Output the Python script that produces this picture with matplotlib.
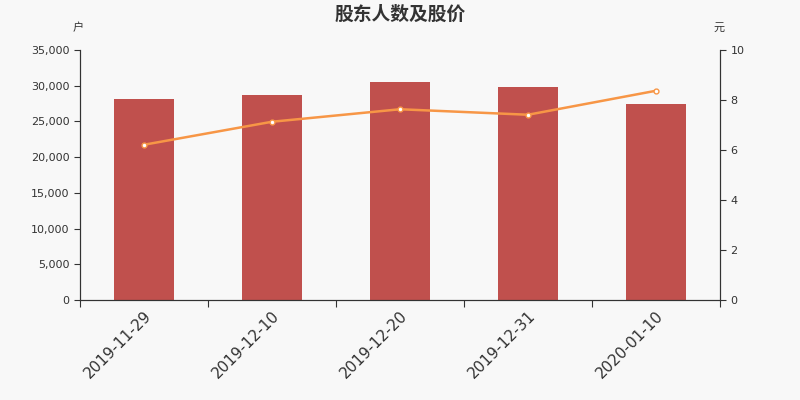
import numpy as np
import matplotlib.pyplot as plt

plt.rcParams['font.family'] = ['DejaVu Sans', 'Noto Sans CJK SC']

dates = ['2019-11-29', '2019-12-10', '2019-12-20', '2019-12-31', '2020-01-10']
holders = [28140, 28700, 30520, 29770, 27440]
price = [6.21, 7.13, 7.63, 7.41, 8.37]

bg = '#f8f8f8'
fig = plt.figure(figsize=(8, 4), dpi=100, facecolor=bg)
ax = fig.add_axes([0.1, 0.25, 0.8, 0.625], facecolor=bg)
ax2 = ax.twinx()

x = np.arange(len(dates))
ax.bar(x, holders, width=0.47, color='#c0504d', zorder=2)
ax2.plot(x, price, color='#f79646', lw=1.8, marker='o', ms=3.5,
         mfc='white', mec='#f79646', mew=1, zorder=3)

ax.set_xlim(-0.5, len(dates) - 0.5)
ax.set_ylim(0, 35000)
ax2.set_ylim(0, 10)
ax.set_yticks(np.arange(0, 35001, 5000))
ax.set_yticklabels([f'{v:,}' for v in range(0, 35001, 5000)])
ax2.set_yticks(np.arange(0, 11, 2))

ax.set_xticks(np.arange(-0.5, len(dates)), minor=False)
ax.set_xticklabels([])
ax.set_xticks(x, minor=True)
ax.set_xticklabels(dates, minor=True, rotation=45, ha='right', va='top',
                   rotation_mode='anchor', fontsize=11, color='#333333')
ax.tick_params(axis='x', which='minor', length=0, pad=6)
ax.tick_params(axis='x', which='major', length=5, color='#333333')

for a in (ax, ax2):
    a.spines['top'].set_visible(False)
    for s in ('left', 'right', 'bottom'):
        a.spines[s].set_color('#333333')
    a.tick_params(axis='y', labelsize=8, labelcolor='#333333', color='#333333', length=4)

fig.text(0.5, 0.965, '股东人数及股价', ha='center', va='center', fontsize=13.5,
         fontweight='bold', color='#333333', family='Noto Sans CJK SC')
fig.text(0.098, 0.93, '户', ha='center', va='center', fontsize=8, color='#333333',
         family='Noto Sans CJK SC')
fig.text(0.899, 0.93, '元', ha='center', va='center', fontsize=8, color='#333333',
         family='Noto Sans CJK SC')

fig.savefig('out.png', dpi=100, facecolor=bg)
